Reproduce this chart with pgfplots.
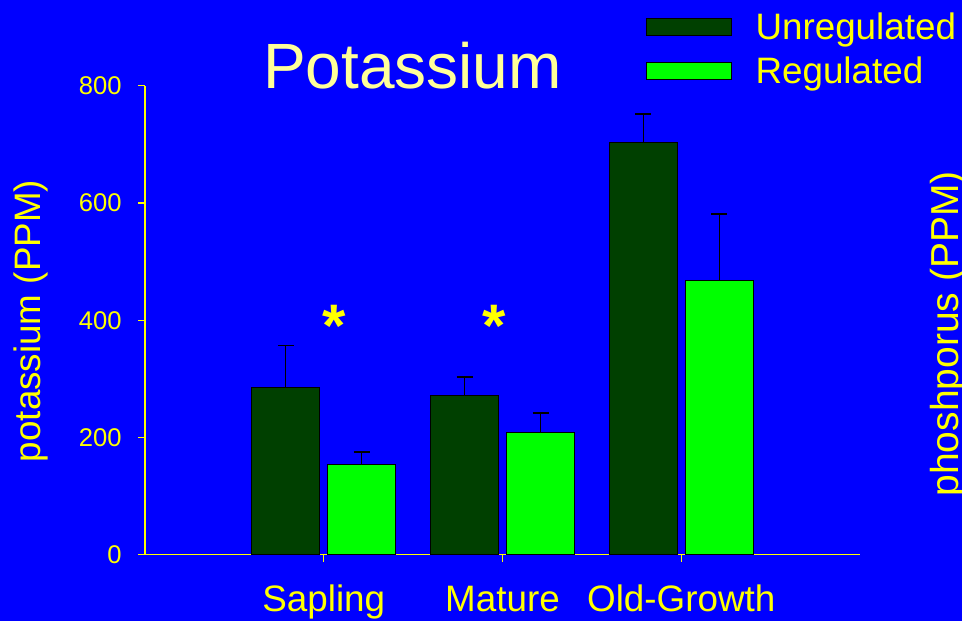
\documentclass[border=0pt]{standalone}
\usepackage{fontspec}
\setmainfont{Liberation Sans}
\setsansfont{Liberation Sans}
\usepackage{pgfplots}
\pgfplotsset{compat=1.18}
\definecolor{bg}{RGB}{0,0,255}
\definecolor{txt}{RGB}{255,255,0}
\definecolor{ttl}{RGB}{255,255,153}
\definecolor{darkg}{RGB}{0,64,0}
\definecolor{lightg}{RGB}{0,255,0}

\begin{document}
\begin{tikzpicture}
\useasboundingbox (0,0) rectangle (481pt,310.5pt);
\fill[bg] (0,0) rectangle (481pt,310.5pt);
\begin{scope}
\clip (0,0) rectangle (481pt,310.5pt);
\begin{axis}[
  at={(72.5pt,33.15pt)}, anchor=south west,
  scale only axis, width=357.5pt, height=234.5pt,
  xmin=0, xmax=4, ymin=0, ymax=800,
  clip=false,
  ybar, bar width=34pt,
  axis x line*=bottom, axis y line*=left,
  axis line style={txt, line width=0.6pt},
  tick align=outside, major tick length=3.5pt,
  tick style={txt, line width=0.6pt},
  xtick={1,2,3}, xticklabels={Sapling,Mature,Old-Growth},
  ytick={0,200,400,600,800},
  /pgf/number format/assume math mode=true,
  yticklabel style={anchor=east, inner sep=0pt, xshift=-8pt,
    font=\fontsize{12.8}{15}\selectfont, text=txt},
  xticklabel style={anchor=base, inner sep=0pt, yshift=-25pt,
    font=\fontsize{18.4}{22}\selectfont, text=txt},
  every axis y label/.style={at={(rel axis cs:-0.1464,0.4983)}, anchor=base,
    rotate=90, inner sep=0pt, font=\fontsize{18.4}{22}\selectfont, text=txt},
  ylabel={potassium (PPM)},
  title={Potassium},
  every axis title/.style={at={(rel axis cs:0.3741,0.9945)}, anchor=base, inner sep=0pt,
    font=\fontsize{32}{36}\selectfont, text=ttl},
  legend style={draw=none, fill=none, inner sep=0pt, outer sep=0pt,
    at={(rel axis cs:0.701,1.1561)}, anchor=north west,
    row sep=7.2pt, column sep=11.65pt,
    nodes={inner sep=0pt, text=txt, font=\fontsize{18.4}{22}\selectfont}},
  legend cell align=left,
  legend image code/.code={\draw[#1] (0pt,-4.05pt) rectangle (42.5pt,4.35pt);},
]
\addplot[bar shift=-19pt, fill=darkg, draw=black, line width=0.5pt,
  error bars/.cd, y dir=plus, y explicit,
  error bar style={black, line width=0.7pt},
  error mark options={rotate=90, mark size=4pt, black, line width=0.7pt}]
  coordinates {(1,286) +- (0,71) (2,272) +- (0,31) (3,703) +- (0,49)};
\addlegendentry{Unregulated}
\addplot[bar shift=19pt, fill=lightg, draw=black, line width=0.5pt,
  error bars/.cd, y dir=plus, y explicit,
  error bar style={black, line width=0.7pt},
  error mark options={rotate=90, mark size=4pt, black, line width=0.7pt}]
  coordinates {(1,154) +- (0,21) (2,209) +- (0,33) (3,468) +- (0,113)};
\addlegendentry{Regulated}
\node[font=\fontsize{30}{30}\selectfont\bfseries, text=txt, inner sep=0pt] at (axis cs:1.06,390) {*};
\node[font=\fontsize{30}{30}\selectfont\bfseries, text=txt, inner sep=0pt] at (axis cs:1.955,390) {*};
\node[rotate=90, anchor=base, inner sep=0pt, font=\fontsize{19.5}{22}\selectfont, text=txt]
  at (rel axis cs:1.1379,0.4707) {phoshporus (PPM)};
\end{axis}
\end{scope}
\end{tikzpicture}
\end{document}
